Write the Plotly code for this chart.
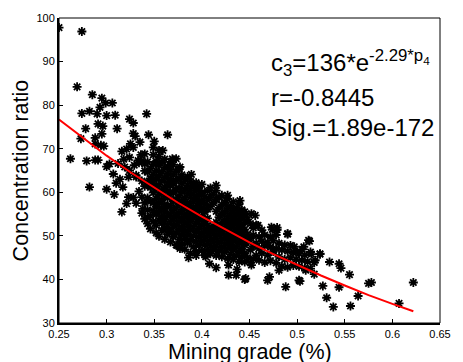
import plotly.graph_objects as go

# ---- scattered points (grade %, ratio) ----
upper_grade = [0.250, 0.274, 0.269, 0.285, 0.295, 0.299, 0.306, 0.293, 0.274, 0.282, 0.290, 0.300, 0.309, 0.342,
               0.278, 0.291, 0.296, 0.311, 0.324, 0.328, 0.295, 0.328, 0.344, 0.330, 0.273, 0.288, 0.288, 0.294,
               0.297, 0.325, 0.335, 0.350, 0.262, 0.279, 0.288, 0.291, 0.300, 0.303, 0.364, 0.355, 0.359, 0.369,
               0.373, 0.377, 0.389, 0.316, 0.321, 0.324, 0.328, 0.333, 0.340, 0.319, 0.324, 0.312, 0.307, 0.323,
               0.331, 0.346, 0.318, 0.329, 0.336, 0.314]
upper_ratio = [97.8, 96.9, 84.2, 82.4, 81.6, 80.5, 80.5, 79.5, 78.1, 78.6, 78.0, 77.6, 77.7, 78.0,
               74.6, 75.7, 75.2, 74.6, 76.8, 75.9, 73.4, 73.5, 73.2, 72.9, 72.3, 72.5, 71.1, 70.8,
               70.6, 71.1, 71.5, 71.7, 67.7, 67.2, 67.4, 67.4, 65.9, 66.5, 73.2, 69.6, 69.6, 67.7,
               67.7, 65.8, 64.1, 69.4, 69.9, 68.0, 70.3, 67.3, 66.5, 65.8, 65.0, 66.6, 64.2, 63.5,
               63.9, 63.1, 67.6, 66.2, 68.6, 63.0]

left_grade = [0.282, 0.300, 0.308, 0.310, 0.316, 0.321, 0.317, 0.323, 0.328, 0.338, 0.343]
left_ratio = [61.2, 60.7, 59.5, 62.1, 55.5, 57.4, 61.2, 58.9, 58.8, 56.2, 54.3]

lower_grade = [0.366, 0.374, 0.377, 0.386, 0.394, 0.404, 0.408, 0.415, 0.428, 0.428, 0.436, 0.437, 0.445,
               0.452, 0.469, 0.471, 0.488, 0.481, 0.502, 0.446, 0.503, 0.527]
lower_ratio = [50.9, 47.8, 47.1, 45.0, 45.5, 45.2, 43.6, 42.7, 43.3, 41.0, 41.0, 42.3, 40.0,
               43.3, 39.8, 40.6, 38.3, 42.1, 39.8, 40.2, 39.6, 38.5]

edge_grade = [0.415, 0.427, 0.440, 0.452, 0.459, 0.473, 0.479, 0.490, 0.445, 0.456, 0.474, 0.479, 0.490,
              0.512, 0.497, 0.507, 0.524, 0.534]
edge_ratio = [61.6, 59.3, 58.1, 55.1, 52.4, 52.0, 51.4, 50.5, 55.5, 54.7, 51.5, 51.9, 50.4,
              49.0, 47.5, 47.5, 45.9, 44.0]

right_grade = [0.513, 0.500, 0.515, 0.524, 0.519, 0.509, 0.518, 0.531, 0.538, 0.544, 0.546, 0.544, 0.555,
               0.556, 0.564, 0.575, 0.578, 0.607, 0.622]
right_ratio = [48.8, 46.3, 45.8, 45.8, 44.4, 42.1, 41.2, 35.8, 33.7, 43.6, 42.6, 38.2, 41.1,
               33.9, 36.2, 39.1, 39.3, 34.5, 39.3]

# ---- dense core, read column by column ----
core_grade = [0.331, 0.334, 0.337, 0.340, 0.343, 0.346, 0.349, 0.352, 0.355, 0.358, 0.361, 0.364, 0.367,
              0.370, 0.373, 0.376, 0.379, 0.382, 0.385, 0.388, 0.391, 0.394, 0.397, 0.400, 0.403, 0.406,
              0.409, 0.412, 0.415, 0.418, 0.421, 0.424, 0.427, 0.430, 0.433, 0.436, 0.439, 0.442, 0.445,
              0.448, 0.451, 0.454, 0.457, 0.460, 0.463, 0.466, 0.469, 0.472, 0.475, 0.478, 0.481, 0.484,
              0.487, 0.490, 0.493, 0.496, 0.499, 0.502, 0.505, 0.508, 0.511, 0.514, 0.518]
core_ratio = [
    [57.5, 63.5],
    [60.2, 66.8],
    [55.2, 58.9, 62.6, 67.2],
    [53.9, 57.6, 61.4, 64.9, 68.8],
    [52.8, 56.0, 58.7, 62.3, 64.6, 67.0],
    [51.6, 54.6, 57.9, 61.1, 63.2, 65.5],
    [53.3, 55.8, 57.6, 59.9, 62.0, 64.1, 66.4, 68.6, 70.3],
    [50.7, 52.4, 54.9, 56.7, 58.6, 60.8, 63.0, 65.0, 67.1],
    [49.9, 53.6, 55.6, 57.5, 59.6, 61.7, 63.8, 66.2, 68.2],
    [51.2, 52.9, 54.4, 56.3, 58.3, 60.4, 62.6, 64.7, 66.9],
    [49.2, 51.8, 53.7, 55.5, 57.2, 59.1, 61.2, 63.4, 65.6, 67.6],
    [50.4, 52.5, 54.6, 56.6, 58.7, 60.3, 62.2, 64.3, 66.0],
    [48.6, 51.1, 53.2, 55.1, 57.0, 59.5, 61.5, 63.1, 65.2, 67.0],
    [49.8, 52.0, 53.9, 55.8, 57.9, 60.0, 62.0, 64.0, 66.3],
    [47.9, 50.6, 52.6, 54.5, 56.5, 58.4, 60.6, 62.7, 64.8],
    [49.2, 51.4, 53.3, 55.2, 57.3, 59.2, 61.0, 63.2, 65.4],
    [48.1, 50.3, 52.1, 54.0, 56.0, 58.0, 60.1, 62.1, 64.0],
    [46.9, 49.3, 51.1, 53.0, 54.9, 56.8, 58.7, 60.8, 62.9],
    [48.3, 50.2, 52.2, 54.1, 55.9, 57.6, 59.7, 61.6, 63.6],
    [46.0, 49.0, 51.3, 53.3, 55.1, 56.9, 58.9, 60.5, 62.5],
    [47.5, 50.0, 52.1, 54.2, 56.0, 57.8, 59.6, 61.5],
    [46.4, 48.7, 50.9, 52.9, 54.8, 56.6, 58.5, 60.4, 62.2],
    [47.8, 49.8, 51.7, 53.6, 55.7, 57.4, 59.3, 61.1],
    [46.6, 48.9, 50.6, 52.5, 54.4, 56.3, 58.1, 60.0, 61.8],
    [45.6, 47.9, 49.7, 51.6, 53.4, 55.5, 57.3, 59.0],
    [46.8, 48.6, 50.6, 52.4, 54.0, 56.1, 58.2, 60.3],
    [45.9, 47.7, 49.6, 51.4, 56.8, 58.9, 61.0],
    [46.8, 48.6, 50.5, 52.2, 57.6, 59.6],
    [45.5, 47.6, 49.5, 51.3, 53.1, 55.6, 58.3, 60.4],
    [46.5, 48.5, 50.3, 52.1, 54.3, 56.4, 58.8],
    [45.2, 47.4, 49.3, 51.1, 53.0, 55.0, 57.1, 59.3],
    [46.3, 48.2, 50.1, 51.9, 53.7, 55.6, 57.7],
    [44.8, 47.1, 49.0, 50.9, 52.7, 54.4, 56.3, 58.5],
    [45.8, 47.9, 49.8, 51.6, 53.3, 55.1, 56.9],
    [44.6, 46.8, 48.7, 50.5, 52.3, 54.0, 55.8, 57.8],
    [45.5, 47.5, 49.4, 51.2, 53.0, 54.7, 56.4],
    [44.1, 46.3, 48.3, 50.1, 51.9, 53.6, 55.4, 57.3],
    [45.2, 47.1, 49.0, 50.8, 52.5, 54.3, 56.0],
    [44.0, 46.0, 47.9, 49.7, 51.5, 53.1, 54.9],
    [45.0, 48.7, 50.4, 53.8],
    [43.8, 46.8, 49.4, 52.8],
    [44.7, 47.6, 50.1, 51.8],
    [45.5, 48.3, 52.5],
    [44.4, 47.1, 49.8],
    [46.0, 48.8, 51.3],
    [43.9, 47.7, 50.2],
    [45.6, 48.5],
    [44.3, 47.4, 49.8],
    [46.4, 48.9],
    [43.8, 47.1, 50.2],
    [45.2, 48.3],
    [43.0, 46.8],
    [44.6, 47.9],
    [42.8, 46.5],
    [45.0, 47.8],
    [43.2, 46.2],
    [44.6],
    [43.0, 45.9],
    [44.4, 46.9],
    [42.6, 45.6],
    [44.1],
    [42.5, 46.3],
    [43.9],
]

# ---- fitted curve ----
fit_grade = [0.250, 0.275, 0.300, 0.325, 0.350, 0.375, 0.400, 0.425, 0.450, 0.475, 0.500, 0.525, 0.550,
             0.575, 0.600, 0.622]
fit_ratio = [76.7, 72.5, 68.4, 64.6, 61.0, 57.6, 54.4, 51.4, 48.5, 45.8, 43.3, 40.9, 38.6, 36.4, 34.4, 32.7]

x_ticks = [0.25, 0.3, 0.35, 0.4, 0.45, 0.5, 0.55, 0.6, 0.65]
x_tick_text = ["0.25", "0.3", "0.35", "0.4", "0.45", "0.5", "0.55", "0.6", "0.65"]
y_ticks = [30, 40, 50, 60, 70, 80, 90, 100]

grade, ratio = [], []
for gx, gy in [(upper_grade, upper_ratio), (left_grade, left_ratio), (lower_grade, lower_ratio),
               (edge_grade, edge_ratio), (right_grade, right_ratio)]:
    grade += gx
    ratio += gy
for gx, col in zip(core_grade, core_ratio):
    grade += [gx] * len(col)
    ratio += col

FONT = "Liberation Sans, Arial, sans-serif"

fig = go.Figure()
fig.add_trace(go.Scatter(
    x=grade, y=ratio, mode="markers",
    marker=dict(symbol="asterisk-open", size=7.5, color="black",
                line=dict(color="black", width=1.8)),
    hoverinfo="skip", showlegend=False))
fig.add_trace(go.Scatter(
    x=fit_grade, y=fit_ratio, mode="lines",
    line=dict(color="#ff0000", width=2), showlegend=False))

fig.update_layout(
    width=463, height=362,
    margin=dict(l=59, r=13, t=17, b=39),
    paper_bgcolor="white", plot_bgcolor="white",
    font=dict(family=FONT, color="black", size=11),
    xaxis=dict(range=[0.25, 0.65], tickvals=x_ticks, ticktext=x_tick_text,
               ticks="inside", ticklen=4, tickwidth=1, tickcolor="black",
               showline=True, linewidth=2, linecolor="black", showgrid=False,
               zeroline=False, tickfont=dict(size=11, family=FONT)),
    yaxis=dict(range=[30, 100], tickvals=y_ticks,
               ticks="inside", ticklen=4, tickwidth=1, tickcolor="black",
               showline=True, linewidth=2, linecolor="black", showgrid=False,
               zeroline=False, tickfont=dict(size=11, family=FONT)),
    shapes=[dict(type="rect", xref="paper", yref="paper", x0=0, x1=1, y0=0, y1=1,
                 line=dict(color="black", width=1))],
    annotations=[
        dict(xref="paper", yref="paper", x=0.5013, y=-0.094, xanchor="center", yanchor="middle",
             text="Mining grade (%)", showarrow=False, font=dict(size=21.5, family=FONT)),
        dict(xref="paper", yref="paper", x=-0.10, y=0.5, xanchor="center", yanchor="middle",
             text="Concentration ratio", textangle=-90, showarrow=False,
             font=dict(size=21.5, family=FONT)),
        dict(xref="paper", yref="paper", x=0.55, y=0.853, xanchor="left", yanchor="middle",
             text="c<sub>3</sub>=136*e<sup>-2.29*p<sub>4</sub></sup>", showarrow=False,
             font=dict(size=24, family=FONT)),
        dict(xref="paper", yref="paper", x=0.55, y=0.739, xanchor="left", yanchor="middle",
             text="r=-0.8445", showarrow=False, font=dict(size=24, family=FONT)),
        dict(xref="paper", yref="paper", x=0.55, y=0.641, xanchor="left", yanchor="middle",
             text="Sig.=1.89e-172", showarrow=False, font=dict(size=24, family=FONT)),
    ],
)

fig.write_html("out.html")
